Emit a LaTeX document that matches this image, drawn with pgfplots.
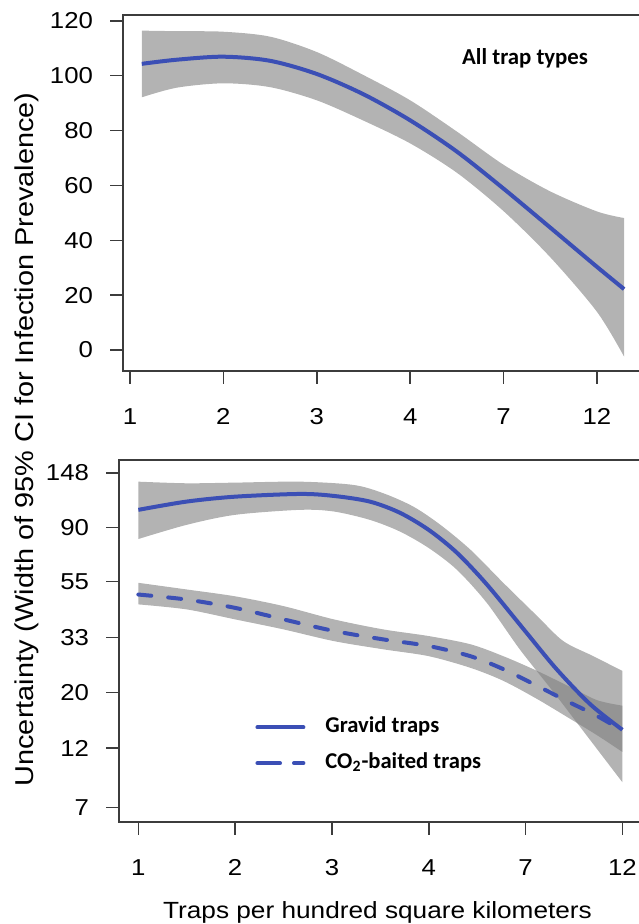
\documentclass[border=0pt]{standalone}
\usepackage{fontspec}
\setmainfont{Liberation Sans}[FakeStretch=1.12]
\newfontfamily\carlito{Carlito}
\usepackage{pgfplots}
\usepackage{pgfplotstable}
\pgfplotsset{compat=1.18}
\usepgfplotslibrary{fillbetween}

\definecolor{lineblue}{RGB}{59,79,181}
\definecolor{axisgray}{RGB}{60,60,60}

% x is the tick index: 0..5 stand for 1,2,3,4,7,12 traps
\pgfplotstableread{
pos   fit    lo    up
0.126 104.3  92.1 116.4
0.50  105.8  95.6 116.2
1.00  106.9  97.2 116.0
1.50  105.4  95.8 114.2
2.00  100.6  91.0 108.6
2.50   93.2  83.6 100.2
3.00   83.7  75.3  91.0
3.50   72.3  64.6  79.6
4.00   58.8  50.6  67.5
4.50   44.6  33.8  57.8
5.00   30.3  13.9  50.5
5.29   22.2  -2.4  48.1
}\alltraps

\pgfplotstableread{
pos  fit
0.00 105.7
0.50 114.0
1.00 119.2
1.67 122.2
2.02 120.0
2.39 114.0
2.70 103.0
3.00  88.0
3.29  71.5
3.60  53.5
4.00  34.8
4.32  24.7
4.67  17.9
5.00  14.2
}\gravidfit

\pgfplotstableread{
pos  up
0.00 136.7
0.50 134.7
1.00 135.5
1.67 136.7
2.22 132.7
2.53 123.0
2.84 108.9
3.12  92.2
3.43  73.5
3.77  54.3
4.12  40.1
4.39  31.9
4.70  27.8
5.00  24.3
}\gravidup

\pgfplotstableread{
pos  lo
0.00  81.0
0.50  92.2
1.00 101.0
1.67 105.7
2.02 104.1
2.39  96.5
2.70  86.8
3.00  74.6
3.29  61.2
3.60  45.2
3.94  29.6
4.29  20.0
4.63  13.5
5.00   8.8
}\gravidlo

\pgfplotstableread{
pos  fit   lo    up
0.00 48.8  44.6  54.3
0.50 46.6  42.6  51.1
1.00 43.2  38.9  48.0
1.50 38.9  35.5  43.9
2.02 35.0  31.9  38.9
2.53 32.4  29.6  35.5
3.00 30.5  27.8  33.4
3.43 27.8  25.0  31.0
3.77 24.7  22.2  27.8
4.12 21.2  18.8  24.3
4.46 18.2  15.7  21.0
4.74 16.1  13.5  18.6
5.00 14.1  11.6  17.7
}\cotwo

\pgfplotsset{
  trapaxis/.style={
    scale only axis, anchor=north west,
    axis line style={line width=0.75pt, draw=axisgray},
    tick style={line width=0.75pt, draw=axisgray},
    tick align=outside, tick pos=left,
    major tick length=6.5pt,
    xtick={0,1,2,3,4,5}, xticklabels={1,2,3,4,7,12},
    tick label style={font=\fontsize{11.5}{13}\selectfont},
    /pgf/number format/assume math mode=true,
    yticklabel style={xshift=-5pt},
    xticklabel style={yshift=-8.8pt},
  },
  edge/.style={draw=none, smooth, forget plot},
  band/.style={fill=gray, fill opacity=0.6, draw=none, forget plot},
  fit/.style={lineblue, line width=2pt, smooth, forget plot},
}

\begin{document}
\begin{tikzpicture}
% top panel
\begin{axis}[trapaxis, at={(61.5pt,-7.5pt)}, width=261pt, height=178pt,
  xmin=-0.075, xmax=5.514, ymin=-7.65, ymax=122.1, ytick={0,20,...,120}]
\addplot[edge, name path=aup] table[x=pos, y=up] {\alltraps};
\addplot[edge, name path=alo] table[x=pos, y=lo] {\alltraps};
\addplot[band] fill between[of=aup and alo];
\addplot[fit] table[x=pos, y=fit] {\alltraps};
\node[anchor=base, font=\carlito\bfseries\fontsize{11.4}{13}\selectfont]
  at (axis cs:4.23,103.9) {All trap types};
\end{axis}

% bottom panel
\begin{axis}[trapaxis, at={(59.5pt,-230pt)}, width=263pt, height=181pt,
  xmin=-0.2, xmax=5.234, ymode=log, ymin=6.12, ymax=166.6,
  ytick={7,12,20,33,55,90,148}, yticklabels={7,12,20,33,55,90,148},
  legend cell align=left,
  legend style={at={(0.2586,0.2914)}, anchor=north west, draw=none, fill=none,
    inner sep=0pt, row sep=7.35pt, column sep=10pt,
    font=\carlito\bfseries\fontsize{11.3}{13}\selectfont,
    nodes={inner sep=0pt, text height=8pt, text depth=2.5pt}}]
\addlegendimage{legend image code/.code={\draw[line width=2pt, lineblue, line cap=round] (1pt,0pt) -- (24pt,0pt);}}
\addlegendentry{Gravid traps}
\addlegendimage{legend image code/.code={\draw[line width=2pt, lineblue, line cap=round] (1pt,0pt) -- (12.3pt,0pt) (19.3pt,0pt) -- (24pt,0pt);}}
\addlegendentry{CO\textsubscript{2}-baited traps}
\addplot[edge, name path=gup] table[x=pos, y=up] {\gravidup};
\addplot[edge, name path=glo] table[x=pos, y=lo] {\gravidlo};
\addplot[band] fill between[of=gup and glo];
\addplot[fit] table[x=pos, y=fit] {\gravidfit};
\addplot[edge, name path=cup] table[x=pos, y=up] {\cotwo};
\addplot[edge, name path=clo] table[x=pos, y=lo] {\cotwo};
\addplot[band] fill between[of=cup and clo];
\addplot[fit, line cap=round, dash pattern=on 6.5pt off 8.5pt] table[x=pos, y=fit] {\cotwo};
\end{axis}

\node[rotate=90, anchor=base, font=\fontsize{12.9}{14}\selectfont]
  at (16.5pt,-219.75pt) {Uncertainty (Width of 95\% CI for Infection Prevalence)};
\node[anchor=base, font=\fontsize{11.7}{13}\selectfont]
  at (188.75pt,-459pt) {Traps per hundred square kilometers};

\pgfresetboundingbox
\useasboundingbox (0pt,0pt) rectangle (319pt,-462pt);
\end{tikzpicture}
\end{document}
